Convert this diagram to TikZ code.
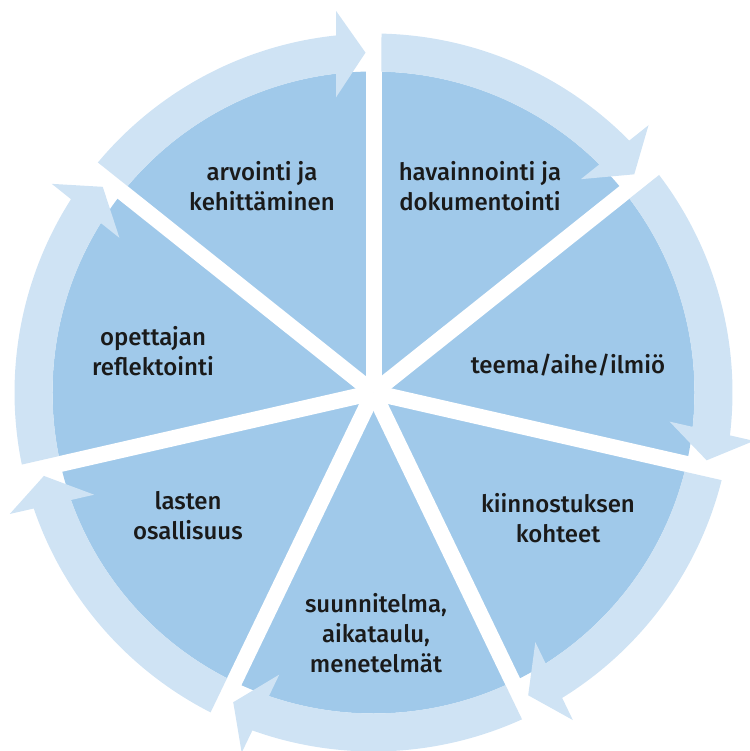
\documentclass[tikz,border=0pt]{standalone}
\usepackage{fontspec}
\setmainfont{Fira Sans}[UprightFont={* Medium}]
\definecolor{discc}{HTML}{A0C9EA}
\definecolor{ringc}{HTML}{CFE3F4}
\definecolor{txtc}{HTML}{1A1A1A}
\begin{document}
\begin{tikzpicture}[x=1pt,y=1pt,
  lbl/.style={text=txtc, align=center, font=\fontsize{24}{30}\selectfont},
  spoke/.style={white, line width=16pt}]
\useasboundingbox (-373.5,-358.5) rectangle (375.5,392.5);
\fill[discc] (0,0) circle[radius=321];
\foreach \k in {0,...,6}{
  \draw[spoke] (0,0) -- ({90-\k*360/7}:372);
}
\foreach \k in {0,...,6}{
  \pgfmathsetmacro\angS{90-\k*360/7}
  \pgfmathsetmacro\angE{90-(\k+1)*360/7}
  \pgfmathsetmacro\angA{\angS-1.428}
  \pgfmathsetmacro\angB{\angE+6.71}
  \pgfmathsetmacro\angC{\angE+7.24}
  \pgfmathsetmacro\angD{\angE+1.348}
  \pgfmathsetmacro\angF{\angE+5.61}
  \pgfmathsetmacro\angG{\angE+5.996}
  \pgfmathsetmacro\angH{\angS-1.277}
  \fill[ringc] (\angA:321) arc[start angle=\angA, end angle=\angB, radius=321]
     -- (\angC:297.5) -- (\angD:340) -- (\angF:383.5) -- (\angG:359)
     arc[start angle=\angG, end angle=\angH, radius=359] -- cycle;
}
\node[lbl] (t1) at (-111.5,206.5) {arvointi ja\\kehittäminen};
\node[lbl] (t2) at (106.5,206.5) {havainnointi ja\\dokumentointi};
\node[lbl] (t3) at (194.5,27.5) {teema/aihe/ilmiö};
\node[lbl] (t4) at (184.5,-125.5) {kiinnostuksen\\kohteet};
\node[lbl] (t5) at (2.5,-240.5) {suunnitelma,\\aikataulu,\\menetelmät};
\node[lbl] (t6) at (-185.5,-123.5) {lasten\\osallisuus};
\node[lbl] (t7) at (-220.5,41.5) {opettajan\\reflektointi};
\end{tikzpicture}
\end{document}
